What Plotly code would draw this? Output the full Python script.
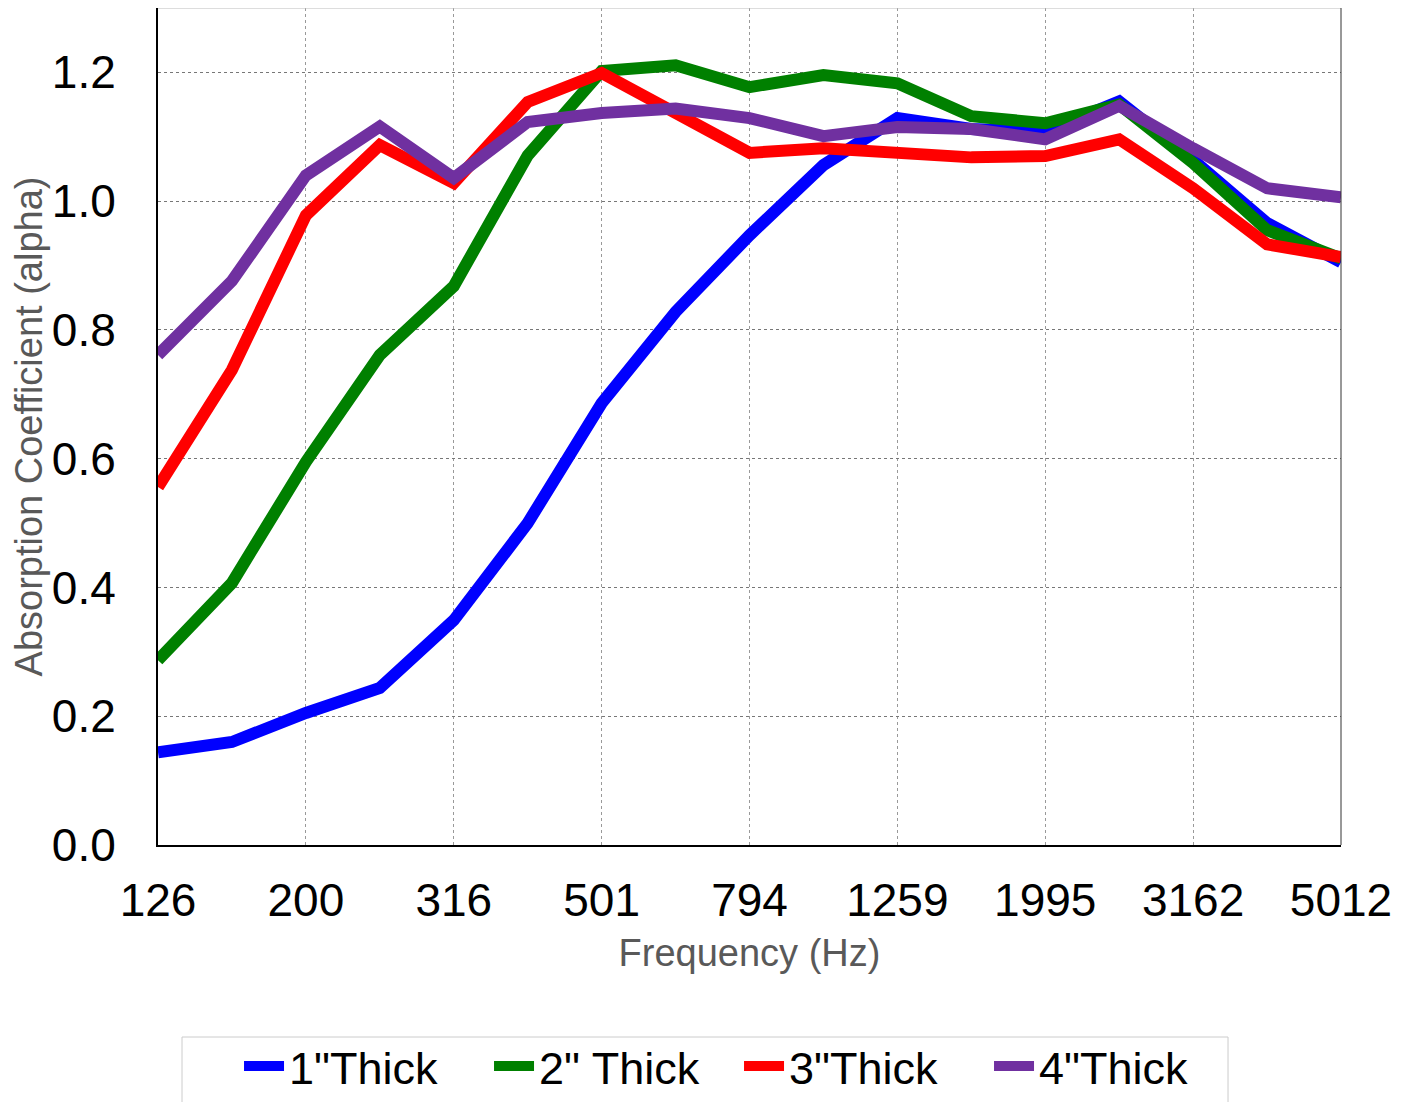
import plotly.graph_objects as go

freqs = ["126", "158", "200", "251", "316", "398", "501", "631", "794", "1000",
         "1259", "1585", "1995", "2512", "3162", "3981", "5012"]
tick_labels = ["126", "200", "316", "501", "794", "1259", "1995", "3162", "5012"]

thick1 = [0.144, 0.160, 0.205, 0.244, 0.349, 0.500, 0.686, 0.828, 0.947, 1.056,
          1.129, 1.112, 1.108, 1.155, 1.064, 0.966, 0.905]
thick2 = [0.287, 0.407, 0.595, 0.761, 0.868, 1.071, 1.202, 1.211, 1.177, 1.196,
          1.183, 1.132, 1.121, 1.150, 1.059, 0.955, 0.911]
thick3 = [0.556, 0.738, 0.978, 1.087, 1.028, 1.154, 1.199, 1.137, 1.075, 1.082,
          1.076, 1.068, 1.070, 1.096, 1.020, 0.933, 0.913]
thick4 = [0.761, 0.876, 1.040, 1.116, 1.036, 1.123, 1.137, 1.144, 1.129, 1.101,
          1.115, 1.112, 1.096, 1.148, 1.082, 1.020, 1.006]

series = [
    ('1"Thick', thick1, "#0000ff"),
    ('2" Thick', thick2, "#008000"),
    ('3"Thick', thick3, "#ff0000"),
    ('4"Thick', thick4, "#7030a0"),
]

fig = go.Figure()
for name, vals, color in series:
    fig.add_trace(go.Scatter(x=freqs, y=vals, name=name, mode="lines",
                             line=dict(color=color, width=12)))

font_family = "Liberation Sans, Arial, sans-serif"

fig.update_layout(
    width=1413, height=1102,
    margin=dict(l=150, r=80, t=0, b=265),
    paper_bgcolor="white", plot_bgcolor="white",
    font=dict(family=font_family, color="black"),
    showlegend=True,
    legend=dict(orientation="h", xref="container", yref="container",
                x=0.1635, xanchor="left", y=0.0724, yanchor="top",
                font=dict(size=45, color="black"),
                borderwidth=0, bgcolor="rgba(0,0,0,0)",
                itemwidth=40, tracegroupgap=0,
                entrywidth=195, entrywidthmode="pixels"),
    xaxis=dict(
        type="category", range=[0, 16], automargin=False,
        tickmode="array", tickvals=tick_labels, ticktext=tick_labels,
        showgrid=True, gridcolor="#999999", griddash="dot", gridwidth=1,
        showline=True, linecolor="black", linewidth=2,
        ticks="outside", ticklen=14, tickcolor="rgba(0,0,0,0)",
        tickfont=dict(size=46, color="black"),
        title=dict(text="Frequency (Hz)", font=dict(size=38, color="#595959"), standoff=14),
        zeroline=False,
    ),
    yaxis=dict(
        range=[0, 1.3], automargin=False,
        tickmode="array", tickvals=[0, 0.2, 0.4, 0.6, 0.8, 1.0, 1.2],
        tickformat=".1f",
        showgrid=True, gridcolor="#777777", griddash="dot", gridwidth=1,
        showline=True, linecolor="black", linewidth=2,
        ticks="outside", ticklen=31, tickcolor="rgba(0,0,0,0)",
        tickfont=dict(size=46, color="black"),
        title=dict(text="Absorption Coefficient (alpha)", font=dict(size=38, color="#595959"), standoff=6),
        zeroline=False,
    ),
    shapes=[
        dict(type="line", xref="paper", yref="paper", x0=0, x1=1, y0=1, y1=1,
             line=dict(color="#bbbbbb", width=1)),
        dict(type="line", xref="paper", yref="paper", x0=1, x1=1, y0=0, y1=1,
             line=dict(color="#333333", width=1)),
        dict(type="rect", xref="paper", yref="paper", x0=0.0203, x1=0.9045,
             y0=-0.3166, y1=-0.2294, line=dict(color="#cccccc", width=1),
             fillcolor="rgba(0,0,0,0)"),
    ],
)

fig.write_html("out.html")
